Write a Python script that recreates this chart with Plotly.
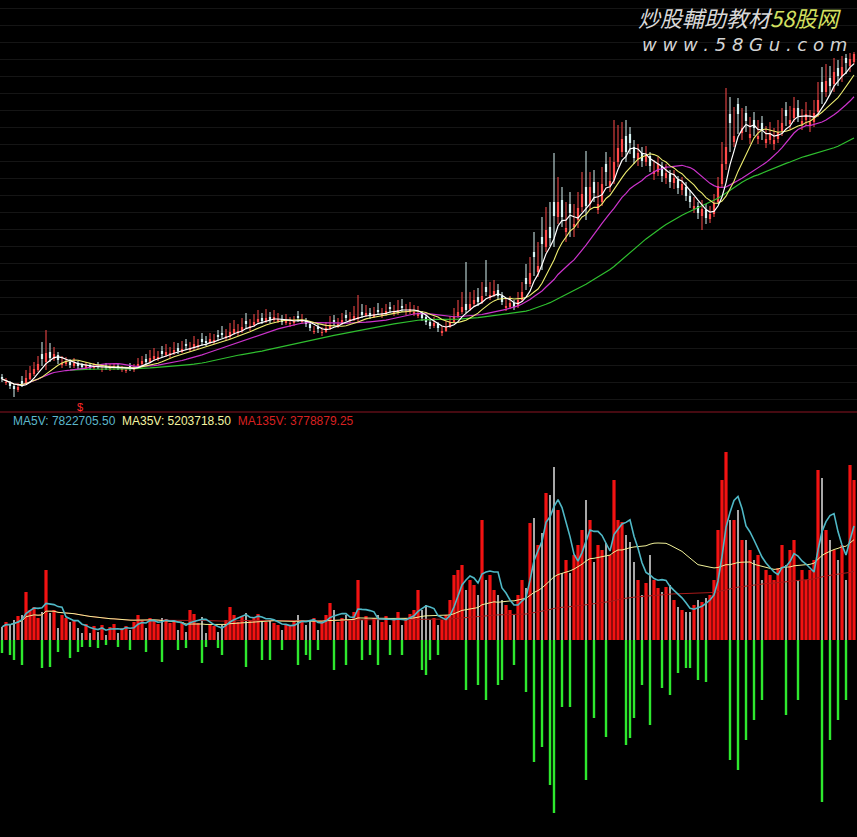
import plotly.graph_objects as go
import pandas as pd

# ---- daily price data (one bar per trading day) ----
close = [
3.3,3.0,2.6,2.3,2.5,2.8,3.4,3.9,4.3,4.8,
5.3,5.9,5.4,5.8,5.2,4.9,5.1,4.7,4.9,4.6,
4.5,4.7,4.4,4.6,4.5,4.3,4.5,4.4,4.6,4.4,
4.3,4.2,4.5,4.4,4.8,5.1,5.0,5.4,5.6,5.5,
5.8,6.0,5.9,6.2,6.1,6.3,6.6,6.4,6.8,6.7,
7.0,6.9,7.3,7.2,7.5,7.7,7.6,8.0,8.3,8.1,
8.5,8.8,8.6,9.0,9.3,9.1,9.4,9.2,9.5,9.3,
9.0,9.2,8.9,9.1,9.4,9.2,8.8,8.4,8.1,8.3,
8.0,8.4,8.7,9.0,8.8,9.2,9.4,9.3,9.6,9.5,
9.7,9.9,9.6,9.8,10.0,9.8,10.1,10.3,10.0,10.2,
10.4,10.1,10.3,10.0,9.8,9.4,9.0,8.6,8.9,8.4,
8.1,8.5,9.0,9.6,10.0,10.5,10.2,10.8,11.2,11.0,
11.6,12.0,11.7,12.1,11.6,11.0,10.6,10.9,10.5,11.2,
12.0,12.8,13.9,15.5,14.6,16.8,18.2,17.4,19.6,21.0,
19.5,18.4,19.9,18.8,20.4,21.8,20.6,22.5,21.9,20.8,
22.8,24.0,23.1,25.0,26.4,27.3,26.0,26.9,25.4,25.9,
25.1,25.7,24.6,24.1,24.8,23.6,23.9,23.0,23.4,22.4,
22.8,21.6,21.0,20.6,19.9,20.3,19.4,19.8,20.9,22.6,
24.8,26.5,28.9,27.6,29.8,28.4,29.1,27.8,28.4,27.6,
28.1,27.3,27.8,27.2,28.0,28.9,29.6,29.2,30.4,29.6,
29.1,29.8,29.0,29.9,31.2,32.0,33.1,32.6,34.0,33.6,
34.5,34.9,35.3,35.8]

open_ = [
3.5,2.9,3.0,2.6,2.2,3.1,2.8,3.3,3.8,4.2,
5.8,5.0,6.0,5.3,5.7,4.7,4.8,5.0,4.6,4.9,
4.7,4.4,4.7,4.4,4.7,4.2,4.6,4.3,4.4,4.6,
4.2,4.1,4.6,4.2,4.4,4.8,5.3,5.0,5.3,5.3,
6.1,5.7,5.7,5.9,6.4,6.0,6.8,6.2,6.4,6.5,
7.3,7.1,6.9,7.0,7.7,7.9,7.4,7.5,7.9,7.9,
8.1,9.1,8.4,8.7,9.0,9.4,9.1,9.5,9.2,9.1,
9.3,8.9,8.8,8.9,9.6,9.0,9.2,8.8,8.0,8.5,
7.9,8.0,8.3,9.2,8.6,8.8,9.7,9.1,9.2,9.3,
10.0,9.6,9.9,9.5,10.2,9.6,9.8,10.5,9.9,10.0,
10.6,10.0,10.0,9.8,9.6,9.8,9.5,9.0,8.6,8.8,
7.9,8.1,8.5,9.0,9.6,10.0,10.8,10.3,10.8,11.5,
11.0,12.5,11.4,11.7,12.2,11.6,10.4,10.5,10.9,10.6,
11.2,13.4,12.8,16.0,14.0,17.5,16.5,18.5,21.0,19.5,
21.2,18.0,20.8,18.5,19.2,20.5,22.5,20.8,23.0,20.2,
21.0,24.8,22.6,23.2,25.0,26.0,27.6,27.8,26.5,25.3,
25.9,25.0,25.6,23.8,24.0,24.6,23.4,23.8,22.9,23.2,
22.2,22.5,21.6,20.3,20.6,19.6,20.2,19.3,19.8,21.0,
22.8,24.8,29.8,27.0,30.8,27.9,29.9,27.4,29.2,27.3,
28.9,26.9,27.2,26.8,27.3,28.1,30.2,28.8,29.4,30.4,
28.8,29.2,28.6,29.0,30.0,33.0,32.0,33.4,32.8,34.4,
33.6,35.4,34.6,35.0]

high = [
3.8,3.4,3.1,2.8,2.9,3.6,4.2,4.6,5.0,5.6,
7.0,8.2,6.9,6.5,6.0,5.6,5.5,5.3,5.4,5.1,
4.9,5.0,4.9,4.9,5.0,4.7,4.9,4.8,4.9,4.8,
4.6,4.5,4.9,4.8,5.4,5.6,5.8,6.2,6.4,6.1,
6.6,6.8,6.5,7.0,6.9,7.1,7.3,7.0,7.6,7.3,
7.9,7.6,7.9,7.8,8.2,8.6,8.3,8.9,9.2,8.8,
9.4,9.9,9.3,9.8,10.2,9.9,10.3,10.0,10.2,9.9,
9.7,9.8,9.5,9.6,10.1,9.8,9.4,9.0,8.6,8.9,
8.5,9.0,9.6,9.7,9.4,9.9,10.2,10.0,10.6,11.7,
10.8,10.7,10.4,10.5,10.9,10.4,10.8,11.0,10.7,11.2,
11.3,10.8,11.0,10.7,10.6,10.1,9.7,9.2,9.5,9.0,
8.6,9.1,9.6,10.4,11.2,12.0,15.0,12.0,12.2,12.4,
13.0,15.2,13.0,13.2,12.8,12.0,11.4,11.6,11.2,12.0,
13.0,14.8,15.5,18.0,17.0,19.5,20.5,21.0,25.9,23.5,
22.5,21.0,22.0,20.8,22.0,24.0,26.1,24.0,24.2,23.0,
24.5,26.0,25.5,29.2,28.7,29.0,29.2,28.5,27.2,26.8,
26.5,26.6,26.0,25.2,25.5,25.0,24.8,24.2,24.2,23.6,
23.5,23.0,22.2,21.5,21.0,21.2,20.8,20.6,21.8,23.5,
27.0,32.4,31.5,30.5,31.4,30.4,30.6,29.5,30.0,29.2,
29.6,28.6,29.0,28.4,29.2,30.4,31.0,30.6,31.5,31.2,
30.3,31.0,30.2,31.2,33.0,34.5,34.8,34.6,35.4,35.2,
35.6,35.8,35.9,36.0]

low = [
3.0,2.7,2.3,1.5,2.0,2.5,2.7,3.2,3.6,4.0,
4.6,4.2,5.0,5.1,4.8,4.4,4.6,4.4,4.4,4.3,
4.2,4.3,4.2,4.2,4.3,4.0,4.2,4.1,4.2,4.2,
4.0,3.9,4.1,4.0,4.3,4.6,4.8,4.9,5.1,5.1,
5.5,5.5,5.4,5.7,5.8,5.9,6.2,6.0,6.2,6.3,
6.6,6.6,6.8,6.8,7.1,7.4,7.2,7.3,7.7,7.6,
7.9,8.4,8.1,8.5,8.8,8.8,8.9,8.9,9.0,8.9,
8.7,8.7,8.5,8.6,9.0,8.8,8.5,8.1,7.8,7.9,
7.6,7.9,8.2,8.6,8.4,8.7,9.1,8.9,9.1,9.0,
9.4,9.5,9.3,9.4,9.7,9.4,9.6,9.9,9.6,9.7,
10.0,9.7,9.8,9.6,9.4,9.1,8.7,8.3,8.4,8.0,
7.6,8.0,8.4,8.9,9.4,9.8,9.9,10.1,10.5,10.6,
10.8,11.6,11.2,11.5,11.2,10.7,10.1,10.3,10.2,10.4,
11.0,12.2,12.5,13.6,13.5,14.2,16.0,16.6,16.5,18.8,
18.5,17.0,17.5,17.5,18.4,20.0,19.2,20.2,21.0,19.8,
20.6,22.6,22.0,22.8,24.5,25.5,25.0,25.8,24.8,24.6,
24.5,24.6,24.0,23.2,23.6,23.0,22.8,22.4,22.3,21.8,
21.7,21.1,20.4,19.9,19.3,18.2,18.8,18.9,19.5,20.8,
22.5,24.2,26.0,26.5,27.8,27.2,28.0,26.8,27.6,26.8,
27.2,26.4,26.8,26.2,26.9,27.6,28.6,28.2,29.0,29.0,
28.2,28.6,28.0,28.5,29.5,30.8,31.5,31.8,32.0,32.6,
33.0,33.8,34.0,34.8]

# volume (10k shares)
volume = [
13,18,15,20,24,25,48,30,33,22,
28,70,27,30,12,25,22,18,20,12,
7,16,7,14,8,15,5,13,16,7,
12,14,10,18,25,20,12,22,19,16,
22,21,17,20,10,18,8,30,26,17,
23,7,16,14,8,15,20,33,25,18,
24,27,20,22,26,20,18,20,17,15,
10,16,14,18,25,20,15,20,22,10,
18,25,37,30,18,22,25,20,28,60,
20,24,15,22,25,18,24,15,20,28,
15,22,26,30,50,30,35,20,22,15,
20,25,40,65,70,75,50,60,55,45,
120,60,65,50,45,40,35,30,25,45,
60,52,117,122,95,107,147,145,173,130,
67,80,67,85,95,110,140,120,78,95,
90,97,85,160,120,118,105,98,78,60,
45,57,85,60,52,48,53,55,40,33,
30,28,28,35,40,38,42,45,60,110,
160,188,120,120,130,100,100,90,80,85,
60,70,65,60,72,95,75,90,100,60,
70,60,70,80,170,162,110,100,90,80,
95,60,175,160]

label_text = ("MA5V: 7822705.50", "MA35V: 5203718.50", "MA135V: 3778879.25")

N = len(close)
x = list(range(N))
s = pd.Series(close)
ma5 = s.rolling(5, min_periods=1).mean()
ma10 = s.rolling(10, min_periods=1).mean()
ma20 = s.rolling(20, min_periods=1).mean()
ma50 = s.rolling(50, min_periods=18).mean()
v = pd.Series(volume, dtype=float)
mav5 = v.rolling(5, min_periods=1).mean()
mav35 = v.rolling(35, min_periods=1).mean()
mav135 = v.rolling(135, min_periods=1).mean()

up = [c >= o for c, o in zip(close, open_)]
UPC = "#ff4a4a"
DNC = "#d8f4f4"

fig = go.Figure()

def wick_trace(flag, color):
    xs, ys = [], []
    for i in range(N):
        if up[i] == flag:
            xs += [i, i, None]
            ys += [low[i], high[i], None]
    return go.Scatter(x=xs, y=ys, mode="lines", line=dict(color=color, width=1),
                      hoverinfo="skip", xaxis="x", yaxis="y")

fig.add_trace(wick_trace(True, UPC))
fig.add_trace(wick_trace(False, DNC))

for flag, color in ((True, UPC), (False, DNC)):
    idx = [i for i in range(N) if up[i] == flag]
    fig.add_trace(go.Bar(
        x=idx,
        y=[max(abs(close[i] - open_[i]), 0.08) for i in idx],
        base=[min(close[i], open_[i]) for i in idx],
        width=0.55, marker=dict(color=color, line=dict(width=0)),
        xaxis="x", yaxis="y", hoverinfo="skip"))

for series, color, w in ((ma50, "#2fbf2f", 1.2), (ma20, "#cc33cc", 1.2),
                         (ma10, "#eeee70", 1.1), (ma5, "#ffffff", 1.2)):
    fig.add_trace(go.Scatter(x=x, y=series, mode="lines",
                             line=dict(color=color, width=w),
                             xaxis="x", yaxis="y", hoverinfo="skip"))

# ---- volume panel ----
iu = [i for i in range(N) if up[i]]
idn = [i for i in range(N) if not up[i]]
fig.add_trace(go.Bar(x=iu, y=[volume[i] for i in iu], width=0.8,
                     marker=dict(color="#f21212", line=dict(width=0)),
                     xaxis="x2", yaxis="y2", hoverinfo="skip"))
fig.add_trace(go.Bar(x=idn, y=[volume[i] for i in idn], width=0.3,
                     marker=dict(color="#a8a8a8", line=dict(width=0)),
                     xaxis="x2", yaxis="y2", hoverinfo="skip"))
fig.add_trace(go.Bar(x=idn, y=[-volume[i] for i in idn], width=0.6,
                     marker=dict(color="#2ee82e", line=dict(width=0)),
                     xaxis="x2", yaxis="y2", hoverinfo="skip"))
for series, color, w in ((mav135, "#a81a1a", 1.0), (mav35, "#f2f29a", 1.0),
                         (mav5, "#4fb8c6", 1.6)):
    fig.add_trace(go.Scatter(x=x, y=series, mode="lines",
                             line=dict(color=color, width=w),
                             xaxis="x2", yaxis="y2", hoverinfo="skip"))

H = 837.0
top_dom0 = 1 - 412 / H
fig.update_layout(
    width=857, height=837,
    margin=dict(l=0, r=0, t=0, b=0),
    paper_bgcolor="#000000", plot_bgcolor="#000000",
    showlegend=False, barmode="overlay",
    xaxis=dict(domain=[0, 1], range=[-0.5, N - 0.25], visible=False, anchor="y"),
    xaxis2=dict(domain=[0, 1], range=[-0.5, N - 0.25], visible=False, anchor="y2", matches="x"),
    yaxis=dict(domain=[top_dom0, 1], range=[0, 41.2], showticklabels=False,
               showgrid=True, gridcolor="#151515", gridwidth=1, tick0=1.3, dtick=1.7,
               zeroline=False, showline=False, ticks=""),
    yaxis2=dict(domain=[0, 1 - 430 / H], range=[-197, 210], showticklabels=False,
                showgrid=False, zeroline=False, showline=False, ticks=""),
)

fig.add_shape(type="line", xref="paper", yref="paper", x0=0, x1=1,
              y0=top_dom0, y1=top_dom0, line=dict(color="#8c1422", width=1))

fig.add_annotation(
    xref="paper", yref="paper", x=11 / 857, y=1 - 421 / H, xanchor="left", yanchor="middle",
    showarrow=False, font=dict(family="Liberation Sans, Arial", size=12),
    text=(f"<span style='color:#5cb8cc'>{label_text[0]}</span>  "
          f"<span style='color:#f4f4a0'>{label_text[1]}</span>  "
          f"<span style='color:#d82020'>{label_text[2]}</span>"))

fig.add_annotation(
    xref="paper", yref="paper", x=80 / 857, y=1 - 407 / H, xanchor="center", yanchor="middle",
    showarrow=False, font=dict(family="Liberation Sans, Arial", size=11, color="#ff2a2a"),
    text="$")

fig.add_annotation(
    xref="paper", yref="paper", x=636 / 857, y=1 - 17 / H, xanchor="left", yanchor="middle",
    showarrow=False, font=dict(family="Noto Sans CJK SC", size=22, color="#d8d8d8"),
    text="<i>炒股輔助教材<span style='color:#d4e060'>58股网</span></i>")
fig.add_annotation(
    xref="paper", yref="paper", x=640 / 857, y=1 - 44 / H, xanchor="left", yanchor="middle",
    showarrow=False, font=dict(family="DejaVu Sans", size=18, color="#d4d4d4"),
    text="<i>w w w . 5 8 G u . c o m</i>")

fig.write_html("out.html",
               config={"displayModeBar": False},
               post_script="document.body.style.margin='0';"
                           "document.body.style.background='#000';")
